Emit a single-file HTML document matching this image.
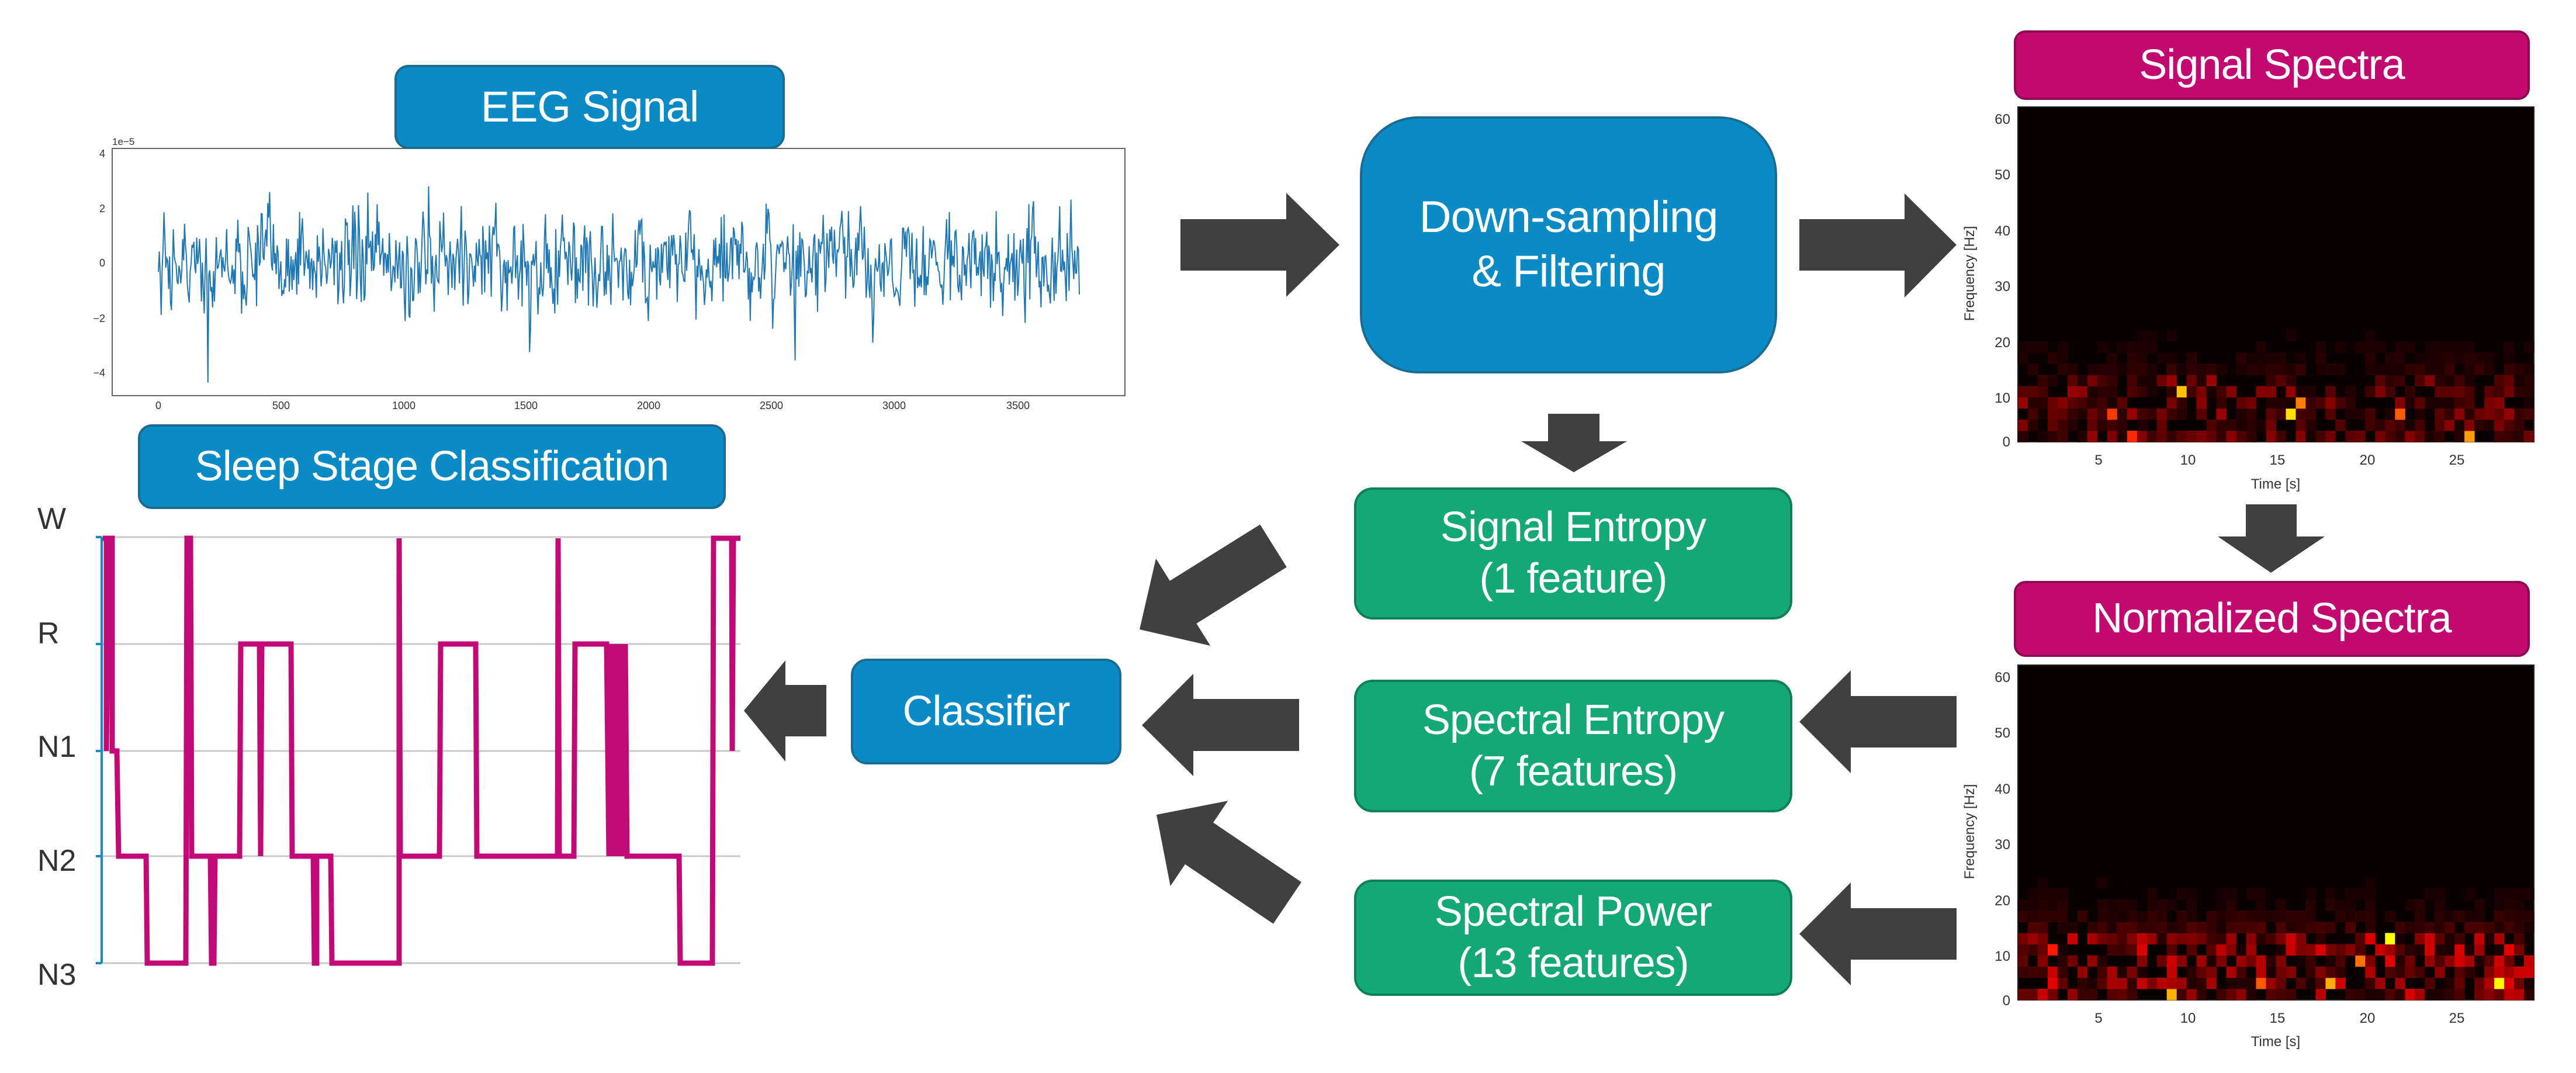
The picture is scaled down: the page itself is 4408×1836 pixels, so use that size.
<!DOCTYPE html>
<html><head><meta charset="utf-8">
<style>
html,body{margin:0;padding:0;background:#fff;}
body{width:4408px;height:1836px;position:relative;overflow:hidden;font-family:"Liberation Sans",sans-serif;}
.box{position:absolute;box-sizing:border-box;color:#fff;display:flex;align-items:center;justify-content:center;text-align:center;line-height:1.22;letter-spacing:-1px;}
.blue{background:#0a8bc6;border:4px solid #1b6c92;}
.green{background:#14a877;border:4px solid #0e8058;}
.mag{background:#c2096f;border:4px solid #8e0a55;}
svg{position:absolute;left:0;top:0;}
</style></head><body>
<svg id="s" width="4408" height="1836" viewBox="0 0 4408 1836" font-family="Liberation Sans, sans-serif">
<rect x="192" y="254" width="1733" height="423" fill="#fff" stroke="#666" stroke-width="2"/>
<g font-size="18" fill="#333" text-anchor="end">
<text x="180" y="269">4</text><text x="180" y="363">2</text><text x="180" y="456">0</text><text x="180" y="551">−2</text><text x="180" y="644">−4</text>
</g>
<text x="192" y="248" font-size="17" fill="#333">1e−5</text>
<g font-size="18" fill="#333" text-anchor="middle">
<text x="271" y="700">0</text><text x="481" y="700">500</text><text x="691" y="700">1000</text><text x="900" y="700">1500</text><text x="1110" y="700">2000</text><text x="1320" y="700">2500</text><text x="1530" y="700">3000</text><text x="1742" y="700">3500</text>
</g>
<polyline id="eeg" fill="none" stroke="#1f77b4" stroke-width="2" points=""/>
<g stroke="#c8c8c8" stroke-width="3">
<line x1="166" y1="919" x2="1267" y2="919"/><line x1="166" y1="1102" x2="1267" y2="1102"/><line x1="166" y1="1285" x2="1267" y2="1285"/><line x1="166" y1="1465" x2="1267" y2="1465"/><line x1="166" y1="1648" x2="1267" y2="1648"/>
</g>
<g stroke="#1a8ac4" stroke-width="4"><line x1="174" y1="919" x2="174" y2="1648"/>
<line x1="164" y1="919" x2="174" y2="919"/><line x1="164" y1="1102" x2="174" y2="1102"/><line x1="164" y1="1285" x2="174" y2="1285"/><line x1="164" y1="1465" x2="174" y2="1465"/><line x1="164" y1="1648" x2="174" y2="1648"/></g>
<g font-size="52" fill="#333"><text x="64" y="905">W</text><text x="64" y="1101">R</text><text x="64" y="1295">N1</text><text x="64" y="1490">N2</text><text x="64" y="1685">N3</text></g>
<path fill="none" stroke="#c20a76" stroke-width="9" stroke-linejoin="miter" d="M176 921 L182 921 L182 1285 L186 921 L192 921 L192 1285 L200 1285 L203 1465 L250 1465 L252 1648 L318 1648 L320 921 L326 921 L328 1465 L360 1465 L362 1648 L366 1648 L368 1465 L410 1465 L412 1102 L444 1102 L446 1465 L448 1102 L498 1102 L500 1465 L536 1465 L538 1648 L542 1648 L542 1465 L566 1465 L568 1648 L683 1648 L683 921 L685 1465 L752 1465 L754 1102 L814 1102 L816 1465 L954 1465 L955 921 L957 1465 L982 1465 L984 1102 L1038 1102 L1042 1465 L1046 1102 L1050 1465 L1054 1102 L1058 1465 L1062 1102 L1066 1465 L1070 1102 L1073 1465 L1162 1465 L1164 1648 L1219 1648 L1221 921 L1252 921 L1253 1285 L1255 921 L1267 921"/>
<rect x="3453" y="183" width="883" height="573" fill="#0b0000" stroke="#222" stroke-width="2"/>
<g id="sp1"></g>
<rect x="3453" y="1138" width="883" height="573" fill="#0b0000" stroke="#222" stroke-width="2"/>
<g id="sp2"></g>
<g font-size="24" fill="#333" text-anchor="end">
<text x="3440" y="212">60</text><text x="3440" y="307">50</text><text x="3440" y="403">40</text><text x="3440" y="498">30</text><text x="3440" y="594">20</text><text x="3440" y="689">10</text><text x="3440" y="764">0</text>
<text x="3440" y="1167">60</text><text x="3440" y="1262">50</text><text x="3440" y="1358">40</text><text x="3440" y="1453">30</text><text x="3440" y="1549">20</text><text x="3440" y="1644">10</text><text x="3440" y="1720">0</text>
</g>
<g font-size="24" fill="#333" text-anchor="middle">
<text x="3591" y="795">5</text><text x="3744" y="795">10</text><text x="3897" y="795">15</text><text x="4051" y="795">20</text><text x="4204" y="795">25</text>
<text x="3894" y="836">Time [s]</text>
<text x="3591" y="1750">5</text><text x="3744" y="1750">10</text><text x="3897" y="1750">15</text><text x="4051" y="1750">20</text><text x="4204" y="1750">25</text>
<text x="3894" y="1790">Time [s]</text>
<text transform="translate(3378,468) rotate(-90)">Frequency [Hz]</text>
<text transform="translate(3378,1423) rotate(-90)">Frequency [Hz]</text>
</g>
<g fill="#404040">
<polygon points="2020,375 2201,375 2201,330 2292,419 2201,508 2201,463 2020,463"/>
<polygon points="3079,375 3259,375 3259,331 3348,419 3259,509 3259,463 3079,463"/>
<polygon points="3348,1191 3167,1191 3167,1147 3079,1235 3167,1323 3167,1279 3348,1279"/>
<polygon points="3348,1554 3167,1554 3167,1510 3079,1598 3167,1686 3167,1642 3348,1642"/>
<polygon points="2223,1196 2042,1196 2042,1153 1954,1241 2042,1328 2042,1285 2223,1285"/>
<polygon points="1414,1172 1344,1172 1344,1130 1273,1216 1344,1303 1344,1260 1414,1260"/>
<polygon points="2649,708 2737,708 2737,755 2784,755 2693,808 2603,755 2649,755"/>
<polygon points="3843,863 3930,863 3930,918 3978,918 3886,980 3795,918 3843,918"/>
<g transform="translate(1950,1077) rotate(148)"><polygon points="-270,-43 -88,-43 -88,-88 0,0 -88,88 -88,43 -270,43"/></g>
<g transform="translate(1979,1394) rotate(-146)"><polygon points="-270,-43 -88,-43 -88,-88 0,0 -88,88 -88,43 -270,43"/></g>
</g>
</svg>
<div class="box blue" style="left:675px;top:111px;width:668px;height:144px;border-radius:24px;font-size:74px;">EEG Signal</div>
<div class="box blue" style="left:236px;top:726px;width:1006px;height:145px;border-radius:24px;font-size:72px;">Sleep Stage Classification</div>
<div class="box blue" style="left:1456px;top:1127px;width:463px;height:181px;border-radius:28px;font-size:72px;">Classifier</div>
<div class="box blue" style="left:2327px;top:199px;width:714px;height:440px;border-radius:100px;font-size:76px;">Down-sampling<br>&amp; Filtering</div>
<div class="box mag" style="left:3446px;top:52px;width:883px;height:119px;border-radius:20px;font-size:72px;">Signal Spectra</div>
<div class="box mag" style="left:3446px;top:994px;width:883px;height:130px;border-radius:20px;font-size:72px;">Normalized Spectra</div>
<div class="box green" style="left:2317px;top:834px;width:750px;height:226px;border-radius:32px;font-size:72px;">Signal Entropy<br>(1 feature)</div>
<div class="box green" style="left:2317px;top:1163px;width:750px;height:227px;border-radius:32px;font-size:72px;">Spectral Entropy<br>(7 features)</div>
<div class="box green" style="left:2317px;top:1505px;width:750px;height:199px;border-radius:32px;font-size:72px;">Spectral Power<br>(13 features)</div>
<script>
var seed=12345;function rnd(){seed=(seed*16807)%2147483647;return (seed-1)/2147483646;}
function gauss(){return (rnd()+rnd()+rnd()+rnd()-2)*1.7;}
var pts=[];var v=0;
for(var x=271;x<=1848;x+=1.6){v=v*0.3+gauss()*0.85;var a=v;if(rnd()<0.025)a*=2.6;var y=450-a*47;if(y<262)y=262;if(y>668)y=668;pts.push(x.toFixed(1)+","+y.toFixed(1));}
document.getElementById("eeg").setAttribute("points",pts.join(" "));
function hot(t){t=Math.max(0,Math.min(1,t));var r=Math.min(1,0.04+t*2.6),g=Math.max(0,Math.min(1,t*2.6-1)),b=Math.max(0,Math.min(1,t*2.6-2));
return "rgb("+Math.round(r*255)+","+Math.round(g*255)+","+Math.round(b*255)+")";}
function spec(id,top,boost){var g=document.getElementById(id),h="";var cols=52,rows=30,cw=883/cols,rh=573/rows;
for(var c=0;c<cols;c++)for(var r=0;r<rows;r++){var f=r*2;var t;var q=rnd();
if(f<12){t=q*q*0.22*boost;if(rnd()<0.02*boost)t=0.4+rnd()*0.5;}
else t=0.07*boost*Math.exp(-(f-12)/5)*q;
if(t<0.02)continue;
h+='<rect x="'+(3453+c*cw).toFixed(1)+'" y="'+(top+573-(r+1)*rh).toFixed(1)+'" width="'+(cw+0.5).toFixed(1)+'" height="'+(rh+0.5).toFixed(1)+'" fill="'+hot(t)+'"/>';}
g.innerHTML=h;}
spec("sp1",183,1.0);spec("sp2",1138,1.5);
</script>
</body></html>
